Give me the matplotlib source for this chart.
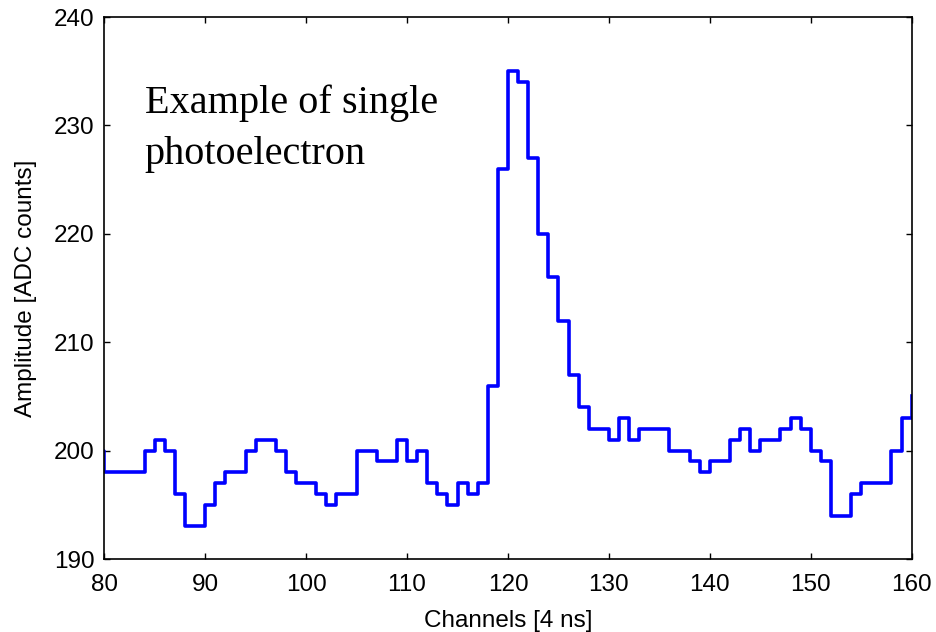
import numpy as np
import matplotlib
matplotlib.use('Agg')
import matplotlib.pyplot as plt

# ADC samples of one waveform, one value per 4 ns channel
channels = np.arange(79, 161)
amplitude = [
    200,                                    # 79
    198, 198, 198, 198, 200, 201, 200, 196, 193, 193,   # 80-89
    195, 197, 198, 198, 200, 201, 201, 200, 198, 197,   # 90-99
    197, 196, 195, 196, 196, 200, 200, 199, 199, 201,   # 100-109
    199, 200, 197, 196, 195, 197, 196, 197, 206, 226,   # 110-119
    235, 234, 227, 220, 216, 212, 207, 204, 202, 202,   # 120-129
    201, 203, 201, 202, 202, 202, 200, 200, 199, 198,   # 130-139
    199, 199, 201, 202, 200, 201, 201, 202, 203, 202,   # 140-149
    200, 199, 194, 194, 196, 197, 197, 197, 200, 203,   # 150-159
    205,                                    # 160
]

xticks = np.arange(80, 161, 10)
yticks = np.arange(190, 241, 10)

plt.rcParams['font.family'] = ['Liberation Sans', 'DejaVu Sans']

fig = plt.figure(figsize=(9.36, 6.32), dpi=100)
ax = fig.add_axes([0.1114, 0.1155, 0.8626, 0.8576])

# MATLAB-style stairs: value k holds from channel k to k+1
ax.step(channels, amplitude, where='post', color='#0000ff', lw=2.6)

ax.set_xlim(80, 160)
ax.set_ylim(190, 240)
ax.set_xticks(xticks)
ax.set_yticks(yticks)
ax.tick_params(direction='in', top=True, right=True, length=4, width=1,
               labelsize=17.5)
ax.tick_params(axis='x', pad=11)
ax.tick_params(axis='y', pad=7)
for s in ax.spines.values():
    s.set_linewidth(1.2)

ax.set_xlabel('Channels [4 ns]', fontsize=17.5, labelpad=10)
ax.set_ylabel('Amplitude [ADC counts]', fontsize=17.5, labelpad=12)

ax.text(0.05, 0.876, 'Example of single\nphotoelectron', transform=ax.transAxes,
        fontsize=29, family=['Liberation Serif', 'DejaVu Serif'],
        va='top', ha='left', linespacing=1.52)

fig.savefig('out.png', dpi=100)
